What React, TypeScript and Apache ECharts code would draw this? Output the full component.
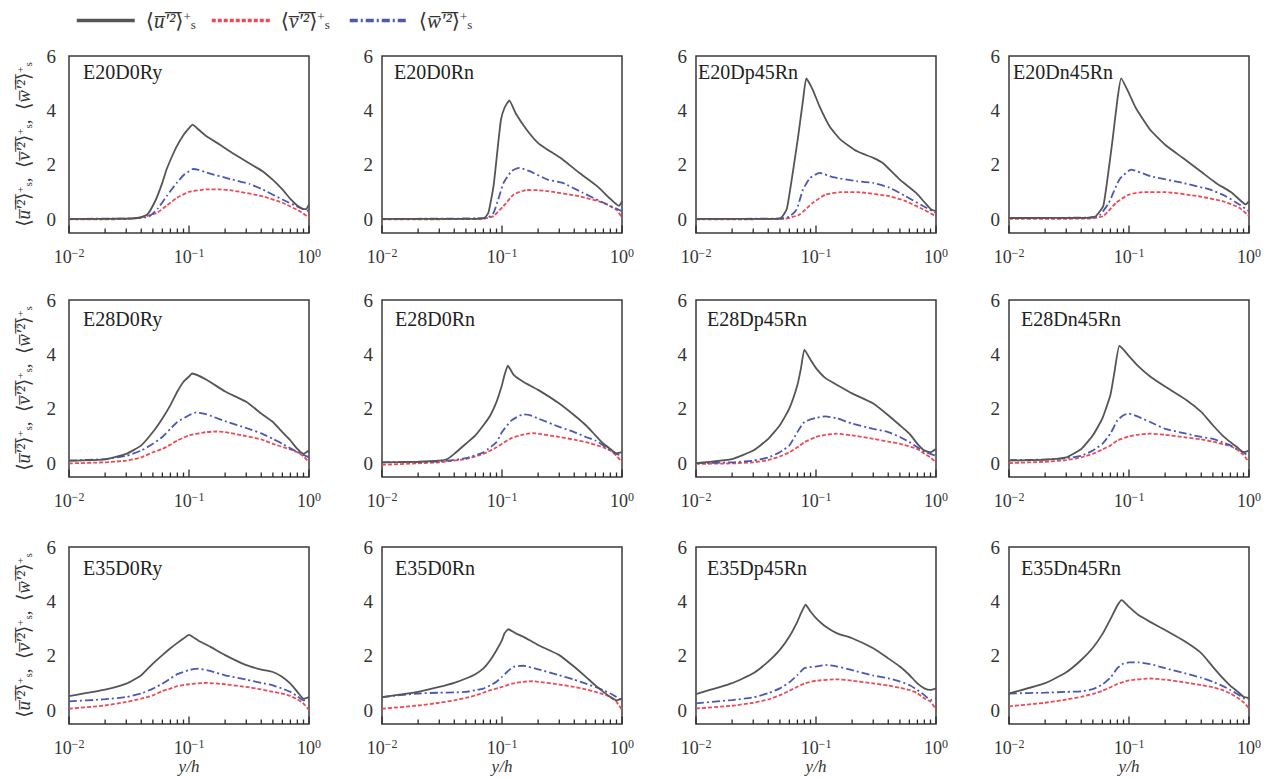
import React, { useEffect, useRef } from "react";
import * as echarts from "echarts";

// ---------- labels ----------
const panelNames = [
  "E20D0Ry", "E20D0Rn", "E20Dp45Rn", "E20Dn45Rn",
  "E28D0Ry", "E28D0Rn", "E28Dp45Rn", "E28Dn45Rn",
  "E35D0Ry", "E35D0Rn", "E35Dp45Rn", "E35Dn45Rn",
];
const OL = "\u0305";
const seriesLetters = ["u", "v", "w"];
const seriesNames = ["u'2", "v'2", "w'2"];
const xAxisTitle = "y/h";
const xMajorTicks = [0.01, 0.1, 1];
const xMinorTicks = [0.02, 0.03, 0.04, 0.05, 0.06, 0.07, 0.08, 0.09, 0.2, 0.3, 0.4, 0.5, 0.6, 0.7, 0.8, 0.9];
const yTicks = [0, 2, 4, 6];
const yMin = -0.5;
const yMax = 6;

// ---------- data: [y/h, value] ----------
const E20D0Ry_u = [[0.01,0.02],[0.02,0.02],[0.03,0.03],[0.038,0.06],[0.045,0.18],[0.053,0.73],[0.06,1.35],[0.065,1.83],[0.072,2.3],[0.079,2.68],[0.09,3.1],[0.1,3.35],[0.107,3.48],[0.12,3.3],[0.14,3.05],[0.18,2.75],[0.23,2.44],[0.32,2.05],[0.41,1.77],[0.5,1.45],[0.6,1.1],[0.7,0.75],[0.8,0.5],[0.9,0.38],[0.95,0.38],[1.0,0.55]];
const E20D0Ry_v = [[0.01,0],[0.03,0.01],[0.039,0.06],[0.054,0.24],[0.065,0.5],[0.079,0.79],[0.1,1.01],[0.14,1.1],[0.18,1.1],[0.23,1.06],[0.41,0.85],[0.6,0.61],[0.84,0.3],[1.0,0.06]];
const E20D0Ry_w = [[0.01,0.02],[0.03,0.03],[0.04,0.06],[0.047,0.12],[0.055,0.4],[0.065,0.85],[0.079,1.34],[0.09,1.62],[0.1,1.77],[0.108,1.85],[0.12,1.82],[0.14,1.72],[0.23,1.46],[0.32,1.3],[0.41,1.1],[0.6,0.73],[0.84,0.43],[1.0,0.3]];

const E20D0Rn_u = [[0.01,0.02],[0.05,0.02],[0.071,0.05],[0.077,0.24],[0.085,1.22],[0.093,2.8],[0.098,3.66],[0.105,4.1],[0.115,4.37],[0.13,3.9],[0.16,3.3],[0.2,2.8],[0.24,2.56],[0.32,2.2],[0.44,1.71],[0.62,1.22],[0.8,0.75],[0.9,0.55],[0.95,0.5],[1.0,0.67]];
const E20D0Rn_v = [[0.01,0],[0.07,0.02],[0.085,0.12],[0.103,0.49],[0.125,0.91],[0.16,1.08],[0.2,1.07],[0.24,1.04],[0.44,0.85],[0.7,0.61],[0.9,0.35],[1.0,0.06]];
const E20D0Rn_w = [[0.01,0.02],[0.075,0.05],[0.085,0.24],[0.093,0.73],[0.103,1.34],[0.12,1.77],[0.14,1.89],[0.17,1.77],[0.24,1.46],[0.32,1.34],[0.47,0.98],[0.7,0.61],[1.0,0.3]];

const E20Dp45Rn_u = [[0.01,0.02],[0.045,0.02],[0.051,0.05],[0.057,0.37],[0.064,1.71],[0.071,3.05],[0.078,4.39],[0.083,5.18],[0.094,4.76],[0.107,4.15],[0.13,3.41],[0.16,2.93],[0.22,2.5],[0.3,2.26],[0.36,2.07],[0.5,1.46],[0.68,0.98],[0.83,0.55],[0.92,0.35],[1.0,0.3]];
const E20Dp45Rn_v = [[0.01,0],[0.055,0.02],[0.073,0.18],[0.094,0.61],[0.12,0.91],[0.16,1.0],[0.22,1.0],[0.41,0.85],[0.56,0.67],[0.78,0.37],[1.0,0.12]];
const E20Dp45Rn_w = [[0.01,0.02],[0.05,0.03],[0.06,0.1],[0.069,0.37],[0.078,1.1],[0.089,1.52],[0.107,1.71],[0.138,1.55],[0.22,1.4],[0.3,1.34],[0.41,1.16],[0.56,0.85],[0.78,0.49],[1.0,0.24]];

const E20Dn45Rn_u = [[0.01,0.05],[0.045,0.06],[0.053,0.12],[0.061,0.49],[0.066,1.46],[0.073,2.93],[0.08,4.39],[0.086,5.18],[0.1,4.63],[0.114,4.09],[0.15,3.29],[0.2,2.74],[0.28,2.26],[0.41,1.71],[0.53,1.34],[0.72,0.98],[0.94,0.55],[1.0,0.67]];
const E20Dn45Rn_v = [[0.01,0.02],[0.045,0.03],[0.061,0.12],[0.078,0.61],[0.1,0.91],[0.13,1.0],[0.2,1.0],[0.38,0.85],[0.6,0.67],[0.83,0.43],[1.0,0.12]];
const E20Dn45Rn_w = [[0.01,0.05],[0.05,0.07],[0.057,0.15],[0.068,0.61],[0.083,1.46],[0.104,1.83],[0.15,1.59],[0.28,1.34],[0.47,1.1],[0.64,0.85],[0.83,0.55],[1.0,0.3]];

const E28D0Ry_u = [[0.01,0.1],[0.02,0.15],[0.03,0.35],[0.04,0.66],[0.05,1.15],[0.06,1.65],[0.07,2.14],[0.08,2.64],[0.09,3.0],[0.1,3.19],[0.106,3.3],[0.14,3.07],[0.2,2.64],[0.3,2.26],[0.4,1.83],[0.5,1.52],[0.6,1.15],[0.7,0.84],[0.8,0.53],[0.9,0.35],[1.0,0.47]];
const E28D0Ry_v = [[0.01,0],[0.02,0.04],[0.03,0.1],[0.04,0.22],[0.05,0.41],[0.06,0.53],[0.07,0.69],[0.08,0.84],[0.1,1.03],[0.14,1.15],[0.17,1.17],[0.2,1.15],[0.3,1.0],[0.4,0.88],[0.5,0.72],[0.7,0.51],[0.8,0.41],[0.9,0.26],[1.0,0.04]];
const E28D0Ry_w = [[0.01,0.1],[0.02,0.16],[0.03,0.28],[0.04,0.47],[0.05,0.72],[0.06,0.97],[0.07,1.27],[0.08,1.52],[0.1,1.77],[0.115,1.87],[0.14,1.8],[0.2,1.55],[0.3,1.3],[0.4,1.1],[0.5,0.9],[0.6,0.72],[0.7,0.55],[0.8,0.42],[1.0,0.22]];

const E28D0Rn_u = [[0.01,0.04],[0.02,0.06],[0.03,0.1],[0.035,0.16],[0.04,0.35],[0.05,0.72],[0.06,1.03],[0.07,1.4],[0.08,1.77],[0.09,2.26],[0.1,2.88],[0.105,3.25],[0.112,3.59],[0.125,3.25],[0.15,3.0],[0.2,2.7],[0.3,2.2],[0.4,1.77],[0.5,1.4],[0.6,1.03],[0.7,0.72],[0.8,0.53],[0.9,0.37],[1.0,0.41]];
const E28D0Rn_v = [[0.01,-0.05],[0.02,0],[0.03,0.04],[0.05,0.16],[0.07,0.35],[0.09,0.59],[0.1,0.72],[0.12,0.93],[0.15,1.06],[0.18,1.11],[0.2,1.09],[0.3,0.97],[0.4,0.87],[0.5,0.78],[0.7,0.59],[0.8,0.47],[0.9,0.28],[1.0,0.04]];
const E28D0Rn_w = [[0.01,0.04],[0.03,0.07],[0.05,0.19],[0.07,0.41],[0.09,0.78],[0.1,1.15],[0.12,1.58],[0.15,1.8],[0.17,1.77],[0.2,1.65],[0.3,1.34],[0.4,1.15],[0.5,0.97],[0.6,0.84],[0.7,0.66],[0.8,0.47],[0.9,0.35],[1.0,0.28]];

const E28Dp45Rn_u = [[0.01,0.01],[0.02,0.16],[0.03,0.47],[0.04,0.9],[0.05,1.4],[0.06,2.02],[0.07,2.88],[0.075,3.5],[0.08,4.18],[0.09,3.81],[0.1,3.5],[0.12,3.13],[0.15,2.88],[0.2,2.57],[0.3,2.2],[0.4,1.77],[0.5,1.4],[0.6,1.09],[0.7,0.72],[0.8,0.47],[0.9,0.41],[1.0,0.53]];
const E28Dp45Rn_v = [[0.01,-0.02],[0.02,0],[0.03,0.04],[0.04,0.12],[0.05,0.25],[0.06,0.41],[0.07,0.59],[0.08,0.78],[0.1,0.97],[0.12,1.05],[0.15,1.09],[0.2,1.03],[0.3,0.9],[0.4,0.8],[0.5,0.72],[0.7,0.53],[0.8,0.35],[0.9,0.22],[1.0,0.04]];
const E28Dp45Rn_w = [[0.01,0.01],[0.02,0.04],[0.03,0.1],[0.04,0.22],[0.05,0.41],[0.06,0.66],[0.07,1.15],[0.08,1.52],[0.1,1.67],[0.12,1.73],[0.15,1.65],[0.2,1.46],[0.3,1.27],[0.4,1.15],[0.5,0.97],[0.6,0.78],[0.7,0.59],[0.8,0.43],[0.9,0.35],[1.0,0.28]];

const E28Dn45Rn_u = [[0.01,0.1],[0.02,0.14],[0.03,0.22],[0.04,0.53],[0.05,1.03],[0.06,1.65],[0.07,2.51],[0.075,3.25],[0.083,4.31],[0.09,4.18],[0.1,3.94],[0.12,3.56],[0.15,3.19],[0.2,2.82],[0.3,2.33],[0.4,1.89],[0.5,1.4],[0.6,1.03],[0.7,0.78],[0.8,0.59],[0.9,0.41],[1.0,0.47]];
const E28Dn45Rn_v = [[0.01,0.01],[0.02,0.06],[0.03,0.12],[0.04,0.22],[0.05,0.35],[0.06,0.51],[0.07,0.66],[0.08,0.84],[0.1,0.99],[0.12,1.06],[0.15,1.09],[0.2,1.05],[0.3,0.95],[0.4,0.88],[0.5,0.8],[0.7,0.63],[0.8,0.5],[0.9,0.31],[1.0,0.04]];
const E28Dn45Rn_w = [[0.01,0.12],[0.02,0.14],[0.03,0.19],[0.04,0.28],[0.05,0.47],[0.06,0.72],[0.07,1.09],[0.08,1.58],[0.09,1.77],[0.1,1.83],[0.12,1.71],[0.15,1.52],[0.2,1.27],[0.3,1.09],[0.4,0.97],[0.5,0.9],[0.6,0.78],[0.7,0.66],[0.8,0.51],[0.9,0.41],[1.0,0.22]];

const E35D0Ry_u = [[0.01,0.52],[0.02,0.76],[0.03,0.98],[0.04,1.29],[0.05,1.72],[0.06,2.03],[0.07,2.28],[0.08,2.48],[0.09,2.64],[0.1,2.77],[0.12,2.56],[0.15,2.34],[0.2,2.03],[0.3,1.66],[0.4,1.5],[0.5,1.41],[0.6,1.23],[0.7,0.98],[0.8,0.68],[0.9,0.43],[1.0,0.49]];
const E35D0Ry_v = [[0.01,0.06],[0.02,0.18],[0.03,0.31],[0.04,0.43],[0.05,0.55],[0.06,0.71],[0.07,0.8],[0.08,0.89],[0.1,0.96],[0.14,1.01],[0.2,0.96],[0.3,0.86],[0.4,0.77],[0.5,0.68],[0.6,0.62],[0.7,0.53],[0.8,0.41],[0.9,0.25],[1.0,0.02]];
const E35D0Ry_w = [[0.01,0.33],[0.02,0.41],[0.03,0.49],[0.04,0.62],[0.05,0.8],[0.06,0.98],[0.07,1.17],[0.08,1.33],[0.1,1.48],[0.12,1.53],[0.15,1.45],[0.2,1.29],[0.3,1.13],[0.4,1.01],[0.5,0.92],[0.6,0.8],[0.7,0.68],[0.8,0.52],[0.9,0.37],[1.0,0.4]];

const E35D0Rn_u = [[0.01,0.49],[0.02,0.68],[0.03,0.86],[0.04,1.01],[0.05,1.17],[0.06,1.33],[0.07,1.54],[0.08,1.85],[0.09,2.21],[0.1,2.58],[0.105,2.83],[0.113,2.98],[0.13,2.83],[0.15,2.71],[0.2,2.4],[0.3,2.03],[0.4,1.6],[0.5,1.23],[0.6,0.92],[0.7,0.68],[0.8,0.49],[0.9,0.37],[1.0,0.43]];
const E35D0Rn_v = [[0.01,0.06],[0.02,0.18],[0.03,0.28],[0.04,0.37],[0.05,0.46],[0.06,0.55],[0.07,0.65],[0.08,0.74],[0.1,0.86],[0.12,0.98],[0.15,1.05],[0.18,1.07],[0.2,1.05],[0.3,0.95],[0.4,0.86],[0.5,0.77],[0.6,0.68],[0.7,0.59],[0.8,0.49],[0.9,0.31],[1.0,0.02]];
const E35D0Rn_w = [[0.01,0.49],[0.02,0.62],[0.03,0.65],[0.04,0.66],[0.05,0.68],[0.06,0.74],[0.07,0.8],[0.08,0.92],[0.09,1.05],[0.1,1.23],[0.11,1.41],[0.125,1.6],[0.15,1.64],[0.2,1.51],[0.3,1.29],[0.4,1.13],[0.5,0.98],[0.6,0.86],[0.7,0.74],[0.8,0.62],[0.9,0.49],[1.0,0.37]];

const E35Dp45Rn_u = [[0.01,0.6],[0.02,1.0],[0.03,1.36],[0.04,1.79],[0.05,2.22],[0.06,2.71],[0.07,3.26],[0.075,3.57],[0.082,3.88],[0.09,3.63],[0.1,3.39],[0.12,3.08],[0.15,2.83],[0.2,2.65],[0.3,2.28],[0.4,1.91],[0.5,1.61],[0.6,1.3],[0.7,0.99],[0.8,0.81],[0.9,0.75],[1.0,0.81]];
const E35Dp45Rn_v = [[0.01,0.07],[0.02,0.17],[0.03,0.28],[0.04,0.4],[0.05,0.56],[0.06,0.72],[0.07,0.87],[0.08,0.99],[0.1,1.09],[0.15,1.14],[0.2,1.09],[0.3,0.99],[0.4,0.91],[0.5,0.83],[0.6,0.75],[0.7,0.63],[0.8,0.44],[0.9,0.32],[1.0,0.04]];
const E35Dp45Rn_w = [[0.01,0.26],[0.02,0.38],[0.03,0.48],[0.04,0.63],[0.05,0.81],[0.06,1.03],[0.07,1.3],[0.08,1.55],[0.1,1.61],[0.12,1.67],[0.15,1.61],[0.2,1.48],[0.3,1.28],[0.4,1.18],[0.5,1.06],[0.6,0.93],[0.7,0.75],[0.8,0.56],[0.9,0.38],[1.0,0.44]];

const E35Dn45Rn_u = [[0.01,0.62],[0.02,1.0],[0.03,1.4],[0.04,1.85],[0.05,2.3],[0.06,2.8],[0.07,3.35],[0.08,3.85],[0.087,4.05],[0.1,3.8],[0.12,3.5],[0.15,3.25],[0.2,2.95],[0.3,2.5],[0.4,2.1],[0.5,1.6],[0.6,1.2],[0.7,0.9],[0.8,0.7],[0.9,0.5],[1.0,0.45]];
const E35Dn45Rn_v = [[0.01,0.15],[0.02,0.28],[0.03,0.4],[0.04,0.5],[0.05,0.6],[0.06,0.72],[0.07,0.85],[0.08,0.97],[0.1,1.1],[0.15,1.17],[0.2,1.13],[0.3,1.02],[0.4,0.93],[0.5,0.85],[0.6,0.75],[0.7,0.62],[0.8,0.47],[0.9,0.3],[1.0,0.08]];
const E35Dn45Rn_w = [[0.01,0.62],[0.02,0.65],[0.03,0.68],[0.04,0.7],[0.05,0.78],[0.06,0.95],[0.07,1.2],[0.08,1.55],[0.09,1.72],[0.1,1.76],[0.12,1.76],[0.15,1.7],[0.2,1.55],[0.3,1.35],[0.4,1.2],[0.5,1.05],[0.6,0.9],[0.7,0.75],[0.8,0.6],[0.9,0.45],[1.0,0.4]];

const panelData = [
  [E20D0Ry_u, E20D0Ry_v, E20D0Ry_w],
  [E20D0Rn_u, E20D0Rn_v, E20D0Rn_w],
  [E20Dp45Rn_u, E20Dp45Rn_v, E20Dp45Rn_w],
  [E20Dn45Rn_u, E20Dn45Rn_v, E20Dn45Rn_w],
  [E28D0Ry_u, E28D0Ry_v, E28D0Ry_w],
  [E28D0Rn_u, E28D0Rn_v, E28D0Rn_w],
  [E28Dp45Rn_u, E28Dp45Rn_v, E28Dp45Rn_w],
  [E28Dn45Rn_u, E28Dn45Rn_v, E28Dn45Rn_w],
  [E35D0Ry_u, E35D0Ry_v, E35D0Ry_w],
  [E35D0Rn_u, E35D0Rn_v, E35D0Rn_w],
  [E35Dp45Rn_u, E35Dp45Rn_v, E35Dp45Rn_w],
  [E35Dn45Rn_u, E35Dn45Rn_v, E35Dn45Rn_w],
];

// ---------- layout / style ----------
const colLefts = [69, 382, 696, 1009];
const rowTops = [56, 300, 547];
const gridW = 240;
const gridH = 177;
const titleOffsetX = [[14, 12, 2, 4], [14, 13, 11, 12], [14, 13, 11, 12]];
const titleOffsetY = [6, 9, 11];
const legendLefts = [75, 210, 348];
const SERIF = "'Liberation Serif', 'Times New Roman', 'DejaVu Serif', serif";
const lineStyles = [
  { color: "#555555", width: 1.8, type: "solid" },
  { color: "#ee4a55", width: 1.8, type: [4, 2] },
  { color: "#4a58b4", width: 1.8, type: [8, 3, 2, 3] },
];

const mathRich = (size: number) => ({
  a: { fontFamily: SERIF, fontSize: size, color: "#333" },
  i: { fontFamily: SERIF, fontSize: size, fontStyle: "italic", color: "#333" },
  sup: { fontFamily: SERIF, fontSize: Math.round(size * 0.6), color: "#333", verticalAlign: "top", lineHeight: Math.round(size * 0.6) },
  sub: { fontFamily: SERIF, fontSize: Math.round(size * 0.6), color: "#333", verticalAlign: "bottom", lineHeight: Math.round(size * 0.6) },
});
const mathTerm = (letter: string) =>
  "{a|⟨}{i|" + letter + OL + "′" + OL + "²" + OL + "}{a|⟩}{sup|+}{sub|s}";

// tick marks drawn through the axis scales
const tickRenderer = (len: number) => (params: any, api: any) => {
  const p = api.coord([api.value(0), yMin]);
  return {
    type: "line",
    shape: { x1: p[0], y1: p[1], x2: p[0], y2: p[1] - len },
    style: { stroke: "#2a2a2a", lineWidth: 1.3 },
  };
};

function buildOption() {
  const grid: any[] = [];
  const xAxis: any[] = [];
  const yAxis: any[] = [];
  const series: any[] = [];
  const title: any[] = [];
  panelNames.forEach((name, i) => {
    const r = Math.floor(i / 4);
    const c = i % 4;
    grid.push({
      left: colLefts[c], top: rowTops[r], width: gridW, height: gridH,
      show: true, borderColor: "#3a3a3a", borderWidth: 1.5, backgroundColor: "transparent",
    });
    xAxis.push({
      type: "log", logBase: 10, gridIndex: i, min: 0.01, max: 1, position: "bottom",
      axisLine: { show: false, onZero: false },
      axisTick: { show: false },
      axisLabel: {
        customValues: xMajorTicks, margin: 14,
        formatter: (v: number) => "{b|10}{s|" + String(Math.round(Math.log10(v))).replace("-", "−") + "}",
        rich: {
          b: { fontFamily: SERIF, fontSize: 18, color: "#333", lineHeight: 20 },
          s: { fontFamily: SERIF, fontSize: 12, color: "#333", verticalAlign: "top", lineHeight: 12 },
        },
      },
      splitLine: { show: false },
      name: r === 2 ? xAxisTitle : "",
      nameLocation: "middle", nameGap: 32,
      nameTextStyle: { fontFamily: SERIF, fontSize: 17, fontStyle: "italic", color: "#333" },
    });
    yAxis.push({
      type: "value", gridIndex: i, min: yMin, max: yMax,
      axisLine: { show: false }, axisTick: { show: false }, splitLine: { show: false },
      axisLabel: { customValues: yTicks, margin: c === 0 ? 13 : 9, fontFamily: SERIF, fontSize: 19, color: "#333" },
      name: c === 0 ? mathTerm("u") + "{a|,  }" + mathTerm("v") + "{a|,  }" + mathTerm("w") : "",
      nameLocation: "middle", nameGap: 36, nameRotate: 90,
      nameTextStyle: { rich: mathRich(19) },
    });
    title.push({
      text: name, left: colLefts[c] + titleOffsetX[r][c], top: rowTops[r] + titleOffsetY[r], padding: 0,
      textStyle: { fontFamily: SERIF, fontSize: 20, fontWeight: "normal", color: "#222" },
    });
    [1, 2, 0].forEach((k) => {
      series.push({
        name: seriesNames[k], type: "line", xAxisIndex: i, yAxisIndex: i,
        data: panelData[i][k], showSymbol: false, symbol: "none", smooth: 0.15,
        lineStyle: lineStyles[k], itemStyle: { color: lineStyles[k].color }, z: k === 0 ? 4 : 3,
      });
    });
    series.push({
      type: "custom", xAxisIndex: i, yAxisIndex: i, silent: true, clip: false, z: 5,
      data: xMinorTicks.map((v) => [v, yMin]), encode: { x: 0, y: 1 },
      renderItem: tickRenderer(4.5),
    });
    series.push({
      type: "custom", xAxisIndex: i, yAxisIndex: i, silent: true, clip: false, z: 5,
      data: xMajorTicks.map((v) => [v, yMin]), encode: { x: 0, y: 1 },
      renderItem: tickRenderer(7.5),
    });
  });
  const legend = seriesNames.map((n, k) => ({
    left: legendLefts[k], top: 10, padding: 0, itemWidth: 58, itemHeight: 14,
    data: [n],
    lineStyle: { width: 3.5 },
    itemStyle: { opacity: 0 },
    formatter: () => mathTerm(seriesLetters[k]),
    textStyle: { padding: [0, 0, 0, 6], rich: mathRich(21) },
  }));
  return {
    animation: false,
    backgroundColor: "#ffffff",
    title, legend, grid, xAxis, yAxis, series,
  };
}

export default function App() {
  const ref = useRef<HTMLDivElement>(null);
  useEffect(() => {
    if (!ref.current) return;
    const chart = echarts.init(ref.current, null, { renderer: "svg" });
    chart.setOption(buildOption() as any);
    return () => chart.dispose();
  }, []);
  return <div ref={ref} style={{ position: "absolute", left: 0, top: 0, width: 1275, height: 778 }} />;
}
